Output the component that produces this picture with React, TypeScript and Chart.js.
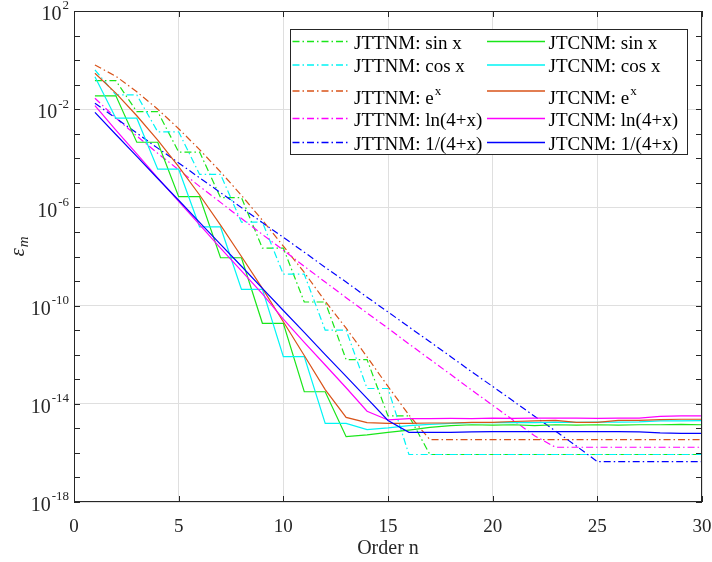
import React, { useEffect, useRef } from "react";
import { Chart, registerables } from "chart.js";

Chart.register(...registerables);

// ---------- data ----------
const orders = [1, 2, 3, 4, 5, 6, 7, 8, 9, 10, 11, 12, 13, 14, 15, 16, 17, 18, 19, 20, 21, 22, 23, 24, 25, 26, 27, 28, 29, 30];

const jttnmSin = [1.45e-1, 1.45e-1, 7.9e-3, 7.9e-3, 1.8e-4, 1.8e-4, 2.5e-6, 2.5e-6, 2.2e-8, 2.2e-8, 1.4e-10, 1.4e-10, 6.3e-13, 6.3e-13, 3.2e-15, 3.2e-15,
  8.6e-17, 8.6e-17, 8.6e-17, 8.6e-17, 8.6e-17, 8.6e-17, 8.6e-17, 8.6e-17, 8.6e-17, 8.6e-17, 8.6e-17, 8.6e-17, 8.6e-17, 8.6e-17];
const jttnmCos = [4.0e-1, 3.8e-2, 3.8e-2, 1.2e-3, 1.2e-3, 2.2e-5, 2.2e-5, 2.5e-7, 2.5e-7, 1.9e-9, 1.9e-9, 1.0e-11, 1.0e-11, 4.2e-14, 4.2e-14,
  8.6e-17, 8.6e-17, 8.6e-17, 8.6e-17, 8.6e-17, 8.6e-17, 8.6e-17, 8.6e-17, 8.6e-17, 8.6e-17, 8.6e-17, 8.6e-17, 8.6e-17, 8.6e-17, 8.6e-17];
const jttnmExp = [6.3e-1, 2.2e-1, 5.1e-2, 1.0e-2, 1.6e-3, 2.25e-4, 2.8e-5, 3.1e-6, 3.0e-7, 2.65e-8, 2.25e-9, 1.5e-10, 1.2e-11, 8.1e-13, 5.1e-14, 3.5e-15,
  3.5e-16, 3.5e-16, 3.5e-16, 3.5e-16, 3.5e-16, 3.5e-16, 3.5e-16, 3.5e-16, 3.5e-16, 3.5e-16, 3.5e-16, 3.5e-16, 3.5e-16, 3.5e-16];
const jttnmLn = [2.8e-2, 4.4e-3, 8.1e-4, 1.6e-4, 3.4e-5, 7.2e-6, 1.6e-6, 3.5e-7, 7.9e-8, 1.8e-8, 4.0e-9, 9.1e-10, 2.1e-10, 5.0e-11, 1.2e-11, 2.75e-12,
  6.5e-13, 1.55e-13, 3.6e-14, 8.7e-15, 2.1e-15, 5.0e-16, 1.7e-16, 1.7e-16, 1.7e-16, 1.7e-16, 1.7e-16, 1.7e-16, 1.7e-16, 1.7e-16];
const jttnmRecip = [1.74e-2, 4.3e-3, 1.07e-3, 2.6e-4, 6.5e-5, 1.6e-5, 4.0e-6, 9.8e-7, 2.4e-7, 6.0e-8, 1.5e-8, 3.6e-9, 9.1e-10, 2.2e-10, 5.5e-11, 1.35e-11,
  3.4e-12, 8.3e-13, 2.0e-13, 5.1e-14, 1.26e-14, 3.1e-15, 7.8e-16, 1.9e-16, 4.4e-17, 4.4e-17, 4.4e-17, 4.4e-17, 4.4e-17, 4.4e-17];

const jtcnmSin = [3.5e-2, 3.5e-2, 4.5e-4, 4.5e-4, 2.75e-6, 2.75e-6, 8.9e-9, 8.9e-9, 1.9e-11, 1.9e-11, 3.1e-14, 3.1e-14, 4.6e-16, 5.4e-16, 6.8e-16, 8.5e-16,
  1.1e-15, 1.3e-15, 1.4e-15, 1.35e-15, 1.4e-15, 1.3e-15, 1.4e-15, 1.35e-15, 1.4e-15, 1.35e-15, 1.4e-15, 1.4e-15, 1.45e-15, 1.4e-15];
const jtcnmCos = [2.1e-1, 4.3e-3, 4.3e-3, 3.6e-5, 3.6e-5, 1.6e-7, 1.6e-7, 4.6e-10, 4.6e-10, 8.3e-13, 8.3e-13, 1.6e-15, 1.6e-15, 8.9e-16, 1.05e-15, 1.3e-15,
  1.45e-15, 1.6e-15, 1.7e-15, 1.7e-15, 1.75e-15, 1.7e-15, 1.8e-15, 1.75e-15, 1.8e-15, 1.8e-15, 1.85e-15, 2.0e-15, 2.0e-15, 2.05e-15];
const jtcnmExp = [2.9e-1, 4.5e-2, 5.4e-3, 5.5e-4, 4.6e-5, 3.2e-6, 1.9e-7, 1.0e-8, 5.0e-10, 2.2e-11, 9.3e-13, 3.8e-14, 2.8e-15, 1.7e-15, 1.6e-15, 1.6e-15,
  1.65e-15, 1.65e-15, 1.75e-15, 1.75e-15, 1.9e-15, 2.0e-15, 2.1e-15, 1.75e-15, 1.75e-15, 2.1e-15, 2.1e-15, 2.25e-15, 2.35e-15, 2.35e-15];
const jtcnmLn = [1.4e-2, 1.4e-3, 1.5e-4, 1.6e-5, 1.75e-6, 2.0e-7, 2.2e-8, 2.6e-9, 3.0e-10, 2.8e-11, 3.2e-12, 3.8e-13, 4.5e-14, 5.0e-15, 2.2e-15, 2.5e-15,
  2.5e-15, 2.55e-15, 2.5e-15, 2.6e-15, 2.55e-15, 2.6e-15, 2.6e-15, 2.6e-15, 2.55e-15, 2.6e-15, 2.6e-15, 3.1e-15, 3.2e-15, 3.2e-15];
const jtcnmRecip = [7.4e-3, 9.3e-4, 1.2e-4, 1.5e-5, 1.95e-6, 2.45e-7, 3.1e-8, 4.0e-9, 5.0e-10, 6.3e-11, 8.1e-12, 1.0e-12, 1.3e-13, 1.65e-14, 2.1e-15, 6.9e-16,
  6.9e-16, 6.8e-16, 7.2e-16, 7.4e-16, 7.4e-16, 7.4e-16, 7.3e-16, 7.4e-16, 7.4e-16, 7.4e-16, 7.2e-16, 6.5e-16, 6.3e-16, 6.3e-16];

const seriesLabels = [
  "JTTNM: sin x", "JTTNM: cos x", "JTTNM: e^x", "JTTNM: ln(4+x)", "JTTNM: 1/(4+x)",
  "JTCNM: sin x", "JTCNM: cos x", "JTCNM: e^x", "JTCNM: ln(4+x)", "JTCNM: 1/(4+x)",
];
const seriesValues = [jttnmSin, jttnmCos, jttnmExp, jttnmLn, jttnmRecip, jtcnmSin, jtcnmCos, jtcnmExp, jtcnmLn, jtcnmRecip];
const seriesColors = ["#19e619", "#00f5f5", "#d95319", "#ff00ff", "#0000ff", "#19e619", "#00f5f5", "#d95319", "#ff00ff", "#0000ff"];

const xTicks = [0, 5, 10, 15, 20, 25, 30];
const yLabelExponents = [2, -2, -6, -10, -14, -18];
const yMinExp = -18;
const yMaxExp = 2;

const xTitle = "Order n";
const yTitleMain = "ε";
const yTitleSub = "m";

// ---------- styling ----------
const FONT = "'Liberation Serif', 'Times New Roman', serif";
const AXIS = "#262626";
const GRID = "#dfdfdf";
const DASHDOT = [7, 3, 1.5, 3];

function drawSupText(ctx: CanvasRenderingContext2D, text: string, x: number, y: number, size: number, supSize: number, supRaise: number) {
  const parts = text.split("^");
  ctx.font = `${size}px ${FONT}`;
  ctx.textAlign = "left";
  ctx.fillText(parts[0], x, y);
  if (parts.length > 1) {
    const w = ctx.measureText(parts[0]).width;
    ctx.font = `${supSize}px ${FONT}`;
    ctx.fillText(parts[1], x + w + 1, y - supRaise);
  }
}

const decorPlugin = {
  id: "decor",
  afterDatasetsDraw(chart: any) {
    const { ctx, chartArea: a, scales } = chart;
    const xs = scales.x;
    const ys = scales.y;
    ctx.save();

    // axes box
    ctx.strokeStyle = AXIS;
    ctx.lineWidth = 1;
    ctx.setLineDash([]);
    ctx.strokeRect(Math.round(a.left) + 0.5, Math.round(a.top) + 0.5, Math.round(a.width) - 1, Math.round(a.height) - 1);

    // x tick marks
    const tl = 6;
    ctx.beginPath();
    for (const v of xTicks) {
      const px = Math.round(xs.getPixelForValue(v)) + 0.5;
      ctx.moveTo(px, a.bottom);
      ctx.lineTo(px, a.bottom - tl);
      ctx.moveTo(px, a.top);
      ctx.lineTo(px, a.top + tl);
    }
    // y tick marks at each decade
    for (let e = yMinExp; e <= yMaxExp; e++) {
      const py = Math.round(ys.getPixelForValue(Math.pow(10, e))) + 0.5;
      ctx.moveTo(a.left, py);
      ctx.lineTo(a.left + tl, py);
      ctx.moveTo(a.right, py);
      ctx.lineTo(a.right - tl, py);
    }
    ctx.stroke();

    // x tick labels
    ctx.fillStyle = AXIS;
    ctx.font = `19px ${FONT}`;
    ctx.textAlign = "center";
    ctx.textBaseline = "alphabetic";
    for (const v of xTicks) {
      ctx.fillText(String(v), xs.getPixelForValue(v), a.bottom + 30);
    }
    // x title
    ctx.font = `20px ${FONT}`;
    ctx.fillText(xTitle, (a.left + a.right) / 2, a.bottom + 52);

    // y tick labels (10 with superscript exponent)
    ctx.textBaseline = "middle";
    for (const e of yLabelExponents) {
      const py = ys.getPixelForValue(Math.pow(10, e));
      const expStr = String(e);
      ctx.font = `13px ${FONT}`;
      const ew = ctx.measureText(expStr).width;
      ctx.font = `20px ${FONT}`;
      const bw = ctx.measureText("10").width;
      const right = a.left - 5;
      ctx.textAlign = "left";
      ctx.fillText("10", right - ew - bw - 1, py + 4);
      ctx.font = `13px ${FONT}`;
      ctx.fillText(expStr, right - ew, py - 5);
    }

    // y title (rotated)
    ctx.save();
    ctx.translate(19, (a.top + a.bottom) / 2 - 10);
    ctx.rotate(-Math.PI / 2);
    ctx.textBaseline = "alphabetic";
    ctx.font = `italic 21px ${FONT}`;
    const mw = ctx.measureText(yTitleMain).width;
    ctx.font = `italic 15px ${FONT}`;
    const sw = ctx.measureText(yTitleSub).width;
    const total = mw + sw + 1;
    ctx.textAlign = "left";
    ctx.font = `italic 21px ${FONT}`;
    ctx.fillText(yTitleMain, -total / 2, 5);
    ctx.font = `italic 15px ${FONT}`;
    ctx.fillText(yTitleSub, -total / 2 + mw + 1, 9);
    ctx.restore();

    // legend
    const bx = a.right - 412;
    const by = a.top + 18;
    const bw2 = 397;
    const bh = 125;
    ctx.fillStyle = "#ffffff";
    ctx.fillRect(bx, by, bw2, bh);
    ctx.strokeStyle = AXIS;
    ctx.lineWidth = 1;
    ctx.strokeRect(Math.round(bx) + 0.5, Math.round(by) + 0.5, bw2, bh);
    const lineYs = [12.5, 36, 62, 89.5, 113.5];
    const baseYs = [19.5, 43, 75, 97, 120.5];
    const colX = [2.5, 197];
    chart.data.datasets.forEach((ds: any, i: number) => {
      const col = i < 5 ? 0 : 1;
      const row = i % 5;
      const lx = bx + colX[col];
      const ly = by + lineYs[row];
      ctx.strokeStyle = ds.borderColor;
      ctx.lineWidth = 1.3;
      ctx.setLineDash(ds.borderDash || []);
      ctx.beginPath();
      ctx.moveTo(lx, ly);
      ctx.lineTo(lx + 58, ly);
      ctx.stroke();
      ctx.setLineDash([]);
      ctx.fillStyle = "#000000";
      ctx.textBaseline = "alphabetic";
      drawSupText(ctx, ds.label, lx + 61.5, by + baseYs[row], 19, 13, 9);
    });

    ctx.restore();
  },
};

export default function App() {
  const canvasRef = useRef<HTMLCanvasElement | null>(null);

  useEffect(() => {
    const canvas = canvasRef.current;
    if (!canvas) return;
    const datasets = seriesValues.map((vals, i) => ({
      label: seriesLabels[i],
      data: orders.map((n, k) => ({ x: n, y: vals[k] })),
      borderColor: seriesColors[i],
      backgroundColor: seriesColors[i],
      borderWidth: 1.2,
      borderDash: i < 5 ? DASHDOT : [],
      pointRadius: 0,
      tension: 0,
      fill: false,
      order: 10 - i,
    }));

    const chart = new Chart(canvas, {
      type: "line",
      data: { datasets },
      options: {
        responsive: true,
        maintainAspectRatio: false,
        animation: false,
        events: [],
        layout: { padding: { left: 74, top: 11, right: 10, bottom: 60 } },
        plugins: {
          legend: { display: false },
          tooltip: { enabled: false },
          title: { display: false },
        },
        scales: {
          x: {
            type: "linear",
            min: 0,
            max: 30,
            afterBuildTicks: (scale: any) => {
              scale.ticks = xTicks.map((v) => ({ value: v }));
            },
            ticks: { display: false },
            grid: { color: GRID, lineWidth: 1, drawTicks: false },
            border: { display: false },
          },
          y: {
            type: "logarithmic",
            min: Math.pow(10, yMinExp),
            max: Math.pow(10, yMaxExp),
            afterBuildTicks: (scale: any) => {
              scale.ticks = yLabelExponents.map((e) => ({ value: Math.pow(10, e) }));
            },
            ticks: { display: false },
            grid: { color: GRID, lineWidth: 1, drawTicks: false },
            border: { display: false },
          },
        },
      },
      plugins: [decorPlugin],
    } as any);

    return () => chart.destroy();
  }, []);

  return (
    <div style={{ position: "absolute", left: 0, top: 0, width: 712, height: 562, background: "#ffffff" }}>
      <canvas ref={canvasRef} />
    </div>
  );
}
